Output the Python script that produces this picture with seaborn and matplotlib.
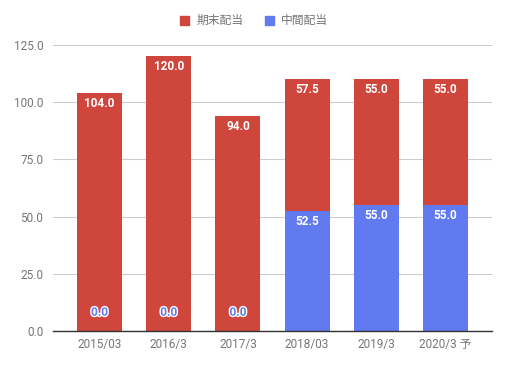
import numpy as np
import pandas as pd
import matplotlib
matplotlib.use("Agg")
import matplotlib.pyplot as plt
import matplotlib.patches as patches
import matplotlib.patheffects as pe
import seaborn as sns

# data
periods = ["2015/03", "2016/3", "2017/3", "2018/03", "2019/3", "2020/3 予"]
interim = [0.0, 0.0, 0.0, 52.5, 55.0, 55.0]       # 中間配当
year_end = [104.0, 120.0, 94.0, 57.5, 55.0, 55.0]  # 期末配当
y_ticks = [0, 25, 50, 75, 100, 125]

RED = "#cf463c"
BLUE = "#627af0"
GRAY = "#757575"

sns.set_theme(style="white")
plt.rcParams["font.family"] = ["Roboto", "Noto Sans CJK JP", "DejaVu Sans"]

df = pd.DataFrame({"period": periods, "interim": interim, "year_end": year_end})
df["total"] = df["interim"] + df["year_end"]

fig = plt.figure(figsize=(5.08, 3.65), dpi=100)
ax = fig.add_axes([53 / 508, 34 / 365, 439 / 508, 286 / 365])

# total (red) first, interim (blue) drawn over it -> stacked look
sns.barplot(data=df, x="period", y="total", color=RED, saturation=1,
            width=0.65, ax=ax, linewidth=0)
sns.barplot(data=df, x="period", y="interim", color=BLUE, saturation=1,
            width=0.65, ax=ax, linewidth=0)

ax.set_xlim(-0.67, 5.67)
ax.set_ylim(0, 125)
ax.set_yticks(y_ticks)
ax.set_yticklabels([f"{v:.1f}" for v in y_ticks])
ax.set_xlabel("")
ax.set_ylabel("")
ax.grid(axis="y", color="#cccccc", linewidth=0.8)
ax.set_axisbelow(True)
for s in ["top", "right", "left"]:
    ax.spines[s].set_visible(False)
ax.spines["bottom"].set_color("#333333")
ax.spines["bottom"].set_linewidth(1.0)
ax.tick_params(axis="both", length=0, labelsize=8.5, labelcolor=GRAY)
ax.tick_params(axis="y", pad=7)
ax.tick_params(axis="x", pad=5)

# value labels
for i, row in df.iterrows():
    ax.annotate(f"{row['year_end']:.1f}", (i, row["total"]), xytext=(0, -7.5),
                textcoords="offset points", ha="center", va="center",
                color="white", fontsize=8.5, fontweight="bold")
    if row["interim"] > 0:
        ax.annotate(f"{row['interim']:.1f}", (i, row["interim"]), xytext=(0, -7.5),
                    textcoords="offset points", ha="center", va="center",
                    color="white", fontsize=8.5, fontweight="bold")
    else:
        t = ax.annotate(f"{row['interim']:.1f}", (i, 0), xytext=(0, 13.5),
                        textcoords="offset points", ha="center", va="center",
                        color=BLUE, fontsize=8.5, fontweight="bold")
        t.set_path_effects([pe.withStroke(linewidth=2, foreground="white")])

handles = [patches.Patch(color=RED, label="期末配当"),
           patches.Patch(color=BLUE, label="中間配当")]
leg = fig.legend(handles=handles, loc="center", bbox_to_anchor=(0.5, 0.943),
                 ncol=2, frameon=False, fontsize=8.5, handlelength=0.8,
                 handleheight=0.8, handletextpad=0.6, columnspacing=1.8)
for txt in leg.get_texts():
    txt.set_color(GRAY)

fig.savefig("out.png", dpi=100)
